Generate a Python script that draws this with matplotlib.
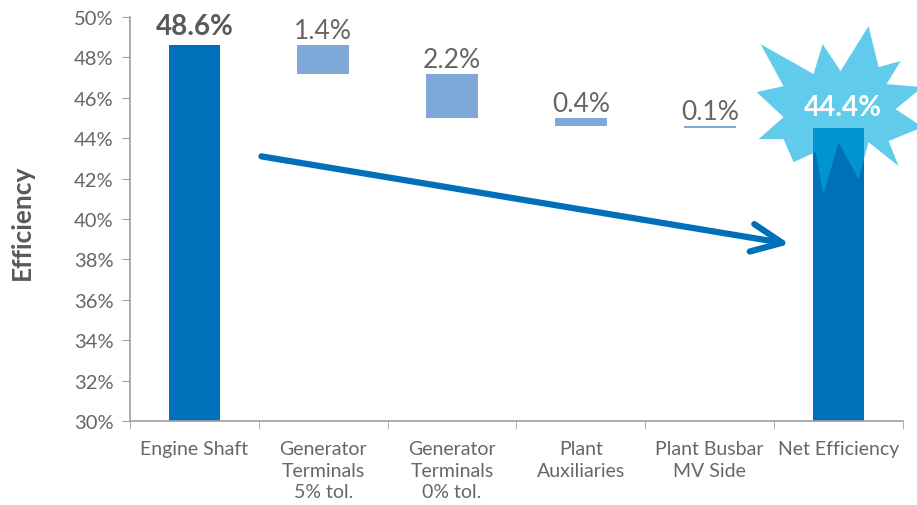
import numpy as np
import matplotlib
matplotlib.use("Agg")
import matplotlib.pyplot as plt
from matplotlib.patches import Polygon
from matplotlib.transforms import Affine2D, ScaledTranslation

plt.rcParams["font.family"] = ["Lato", "DejaVu Sans"]

# dados do gráfico (cascata de eficiência)
categorias = ["Engine Shaft", "Generator\nTerminals\n5% tol.", "Generator\nTerminals\n0% tol.",
              "Plant\nAuxiliaries", "Plant Busbar\nMV Side", "Net Efficiency"]
eficiencia_eixo = 48.6
perdas = [1.4, 2.2, 0.4, 0.1]
rotulo_liquido = 44.4
yticks = [30, 32, 34, 36, 38, 40, 42, 44, 46, 48, 50]

# seta de tendência (coordenadas de dados)
seta_inicio = (0.52, 43.1)
seta_fim = (4.62, 38.76)

AZUL = "#0070BA"
AZUL_CLARO = "#7DA8D8"
CINZA = "#595959"
CINZA_TXT = "#666666"
EIXO = "#A0A0A0"

fig = plt.figure(figsize=(9.17, 5.06), dpi=100)
ax = fig.add_axes([130 / 917, 84 / 506, 773 / 917, 404 / 506])

x = np.arange(len(categorias))
largura = 0.4

# barra inicial
ax.bar(x[0], eficiencia_eixo - 30, bottom=30, width=largura, color=AZUL, zorder=2)
ax.annotate(f"{eficiencia_eixo:.1f}%", (x[0], eficiencia_eixo), xytext=(0, 8),
            textcoords="offset points", ha="center", va="baseline",
            fontsize=20, fontweight="bold", color=CINZA)

# perdas flutuantes
topo = eficiencia_eixo
for i, p in enumerate(perdas):
    base = topo - p
    ax.bar(x[i + 1], p, bottom=base, width=largura, color=AZUL_CLARO, zorder=2)
    ax.annotate(f"{p:.1f}%", (x[i + 1], topo), xytext=(0, 5),
                textcoords="offset points", ha="center", va="baseline",
                fontsize=19, color=CINZA_TXT)
    topo = base

# barra final
liquido = topo
ax.bar(x[-1], liquido - 30, bottom=30, width=largura, color=AZUL, zorder=2)

# estrela de destaque (offsets em pixels a partir do topo da barra final)
estrela = np.array([
    (30, 102), (40, 61), (62, 67), (48, 44), (84, 41), (57, 19), (84, 1),
    (50, -13), (60, -38), (30, -14), (20, -51), (0, -14), (-15, -66),
    (-23, -24), (-45, -34), (-55, -11), (-80, -11), (-55, 11), (-82, 36),
    (-55, 42), (-78, 84), (-25, 54), (-16, 84), (2, 57),
], dtype=float)
trans = Affine2D() + ScaledTranslation(x[-1], liquido, ax.transData)
ax.add_patch(Polygon(estrela, closed=True, transform=trans, facecolor="#00ABE0",
                     edgecolor="none", alpha=0.62, zorder=3, clip_on=False))
ax.annotate(f"{rotulo_liquido:.1f}%", (x[-1], liquido), xytext=(4, 21),
            textcoords="offset pixels", ha="center", va="center",
            fontsize=20, fontweight="bold", color="white", zorder=4)

# seta
ax.annotate("", xy=seta_fim, xytext=seta_inicio,
            arrowprops=dict(arrowstyle="->,head_length=1.1,head_width=0.5",
                            mutation_scale=20, color=AZUL, lw=4.5,
                            shrinkA=0, shrinkB=0, capstyle="round"),
            zorder=5)

ax.set_xlim(-0.5, len(categorias) - 0.5)
ax.set_ylim(30, 50)
ax.set_yticks(yticks)
ax.set_yticklabels([f"{v}%" for v in yticks])
ax.set_xticks(x)
ax.set_xticklabels(categorias, linespacing=1.3)
ax.set_xticks(np.arange(len(categorias) + 1) - 0.5, minor=True)
ax.tick_params(axis="x", which="major", length=0, pad=14, labelsize=14, labelcolor=CINZA_TXT)
ax.tick_params(axis="x", which="minor", length=6, color=EIXO, direction="out")
ax.tick_params(axis="y", length=6, color=EIXO, labelsize=14.5, labelcolor=CINZA_TXT, pad=6)

for lado in ["top", "right"]:
    ax.spines[lado].set_visible(False)
for lado in ["left", "bottom"]:
    ax.spines[lado].set_color(EIXO)
    ax.spines[lado].set_linewidth(1.2)

ax.set_ylabel("Efficiency", fontsize=19, fontweight="bold", color=CINZA)
ax.yaxis.set_label_coords(-0.125, 0.495)

fig.savefig("out.png", dpi=100)
plt.close(fig)
